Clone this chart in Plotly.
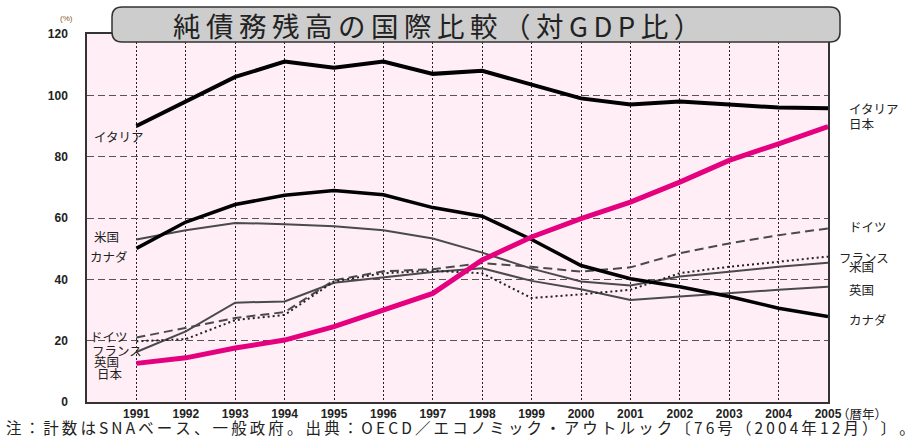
import plotly.graph_objects as go

# Net government debt, % of GDP
years = list(range(1991, 2006))
italy = [90.0, 98.0, 106.0, 111.0, 109.0, 111.0, 107.0, 108.0, 103.5, 99.0, 97.0, 98.0, 97.0, 96.0, 95.8]
japan = [12.6, 14.4, 17.6, 20.2, 24.6, 29.8, 35.4, 46.3, 53.8, 59.8, 65.2, 71.7, 78.8, 84.2, 89.8]
canada = [50.1, 58.7, 64.4, 67.4, 69.0, 67.6, 63.4, 60.6, 53.0, 44.5, 40.2, 37.6, 34.4, 30.6, 27.9]
usa = [53.0, 56.0, 58.4, 58.0, 57.3, 56.0, 53.3, 48.7, 43.5, 39.3, 38.0, 40.9, 42.5, 44.1, 45.4]
uk = [16.3, 23.0, 32.4, 32.8, 38.9, 40.6, 42.4, 43.6, 39.5, 36.8, 33.3, 34.4, 35.6, 36.6, 37.6]
germany = [21.0, 24.3, 27.4, 29.3, 39.7, 42.6, 43.3, 45.3, 44.1, 42.5, 43.9, 48.5, 51.7, 54.4, 56.6]
france = [19.8, 20.5, 26.7, 28.4, 39.3, 42.0, 42.8, 42.0, 33.9, 35.1, 36.6, 42.0, 44.1, 45.7, 47.4]

y_ticks = [0, 20, 40, 60, 80, 100, 120]
x_tick_text = [str(y) for y in years]

W, H = 916, 437
ML, MR, MT, MB = 87, 88, 34, 35
PW, PH = W - ML - MR, H - MT - MB


def px(x):
    return (x - ML) / PW


def py(y):
    return (H - MB - y) / PH


def spaced(s):
    # widen character pitch with thin spaces
    return "\u2009".join(s)


JP = "Noto Sans CJK JP"
LAT = "Liberation Sans, Arial"

fig = go.Figure()

series = [
    ("英国", uk, dict(color="#4a4a4a", width=2)),
    ("米国", usa, dict(color="#4a4a4a", width=2)),
    ("ドイツ", germany, dict(color="#4a4a4a", width=2, dash="9px,5px")),
    ("フランス", france, dict(color="#222222", width=2, dash="2px,3px")),
    ("カナダ", canada, dict(color="#000000", width=3.5)),
    ("イタリア", italy, dict(color="#000000", width=4)),
    ("日本", japan, dict(color="#e4007f", width=5)),
]
for name, vals, line in series:
    fig.add_trace(go.Scatter(x=years, y=vals, mode="lines", name=name,
                             line=line, showlegend=False, hoverinfo="skip"))

# Series labels at both ends of the plot
left_labels = [
    ("イタリア", 92, 136), ("米国", 92, 237), ("カナダ", 88, 256),
    ("ドイツ", 88, 336), ("フランス", 90, 350), ("英国", 92, 361), ("日本", 95, 373),
]
right_labels = [
    ("イタリア", 847, 109), ("日本", 847, 124), ("ドイツ", 847, 227),
    ("フランス", 837, 257), ("米国", 847, 266), ("英国", 847, 289), ("カナダ", 847, 319),
]
annotations = []
for txt, x, y in left_labels + right_labels:
    annotations.append(dict(text=txt, x=px(x), y=py(y), xref="paper", yref="paper",
                            xanchor="left", yanchor="middle", showarrow=False,
                            font=dict(family=JP, size=12.5, color="#222222")))

# Title inside a rounded box
bx0, bx1, by0, by1, r = 112, 840, 7, 42, 10
rx, ry = r / PW, r / PH
X0, X1, Y0, Y1 = px(bx0), px(bx1), py(by1), py(by0)
path = (f"M {X0+rx},{Y1} L {X1-rx},{Y1} Q {X1},{Y1} {X1},{Y1-ry} "
        f"L {X1},{Y0+ry} Q {X1},{Y0} {X1-rx},{Y0} L {X0+rx},{Y0} "
        f"Q {X0},{Y0} {X0},{Y0+ry} L {X0},{Y1-ry} Q {X0},{Y1} {X0+rx},{Y1} Z")
shapes = [dict(type="path", path=path, xref="paper", yref="paper",
               fillcolor="#cdcdcd", line=dict(color="#333333", width=1.5), layer="above")]

annotations.append(dict(text=spaced("純債務残高の国際比較（対GDP比）"), x=px(437), y=py(25),
                        xref="paper", yref="paper", xanchor="center", yanchor="middle",
                        showarrow=False, font=dict(family=JP, size=27.5, color="#222222")))

annotations.append(dict(text="(%)", x=px(66), y=py(18), xref="paper", yref="paper",
                        xanchor="center", yanchor="middle", showarrow=False,
                        font=dict(family=LAT, size=8, color="#8a5a2a")))
annotations.append(dict(text="（暦年）", x=px(835), y=py(413), xref="paper", yref="paper",
                        xanchor="left", yanchor="middle", showarrow=False,
                        font=dict(family=JP, size=12.5, color="#222222")))
annotations.append(dict(text=spaced("注：計数はSNAベース、一般政府。出典：OECD／エコノミック・アウトルック〔76号（2004年12月）〕。"),
                        x=px(4), y=py(426.5), xref="paper", yref="paper",
                        xanchor="left", yanchor="middle", showarrow=False,
                        font=dict(family=JP, size=15.5, color="#222222")))

fig.update_layout(
    width=W, height=H,
    margin=dict(l=ML, r=MR, t=MT, b=MB, pad=0),
    paper_bgcolor="#ffffff",
    plot_bgcolor="#ffeef5",
    shapes=shapes,
    annotations=annotations,
    xaxis=dict(range=[1990, 2005], tickvals=years, ticktext=x_tick_text,
               showgrid=True, gridcolor="#222222", gridwidth=1.2, griddash="2px,2px",
               showline=True, linecolor="#333333", linewidth=1.5, mirror=True,
               ticks="", ticklabelstandoff=0,
               tickfont=dict(family=LAT, size=12, color="#222222", weight="bold"),
               zeroline=False, fixedrange=True),
    yaxis=dict(range=[0, 120], tickvals=y_ticks,
               showgrid=True, gridcolor="#555555", gridwidth=1, griddash="7px,4px",
               showline=True, linecolor="#333333", linewidth=1.5, mirror=True,
               ticks="outside", ticklen=15, tickcolor="rgba(0,0,0,0)",
               tickfont=dict(family=LAT, size=12, color="#222222", weight="bold"),
               zeroline=False, fixedrange=True),
)

fig.write_html("out.html")
